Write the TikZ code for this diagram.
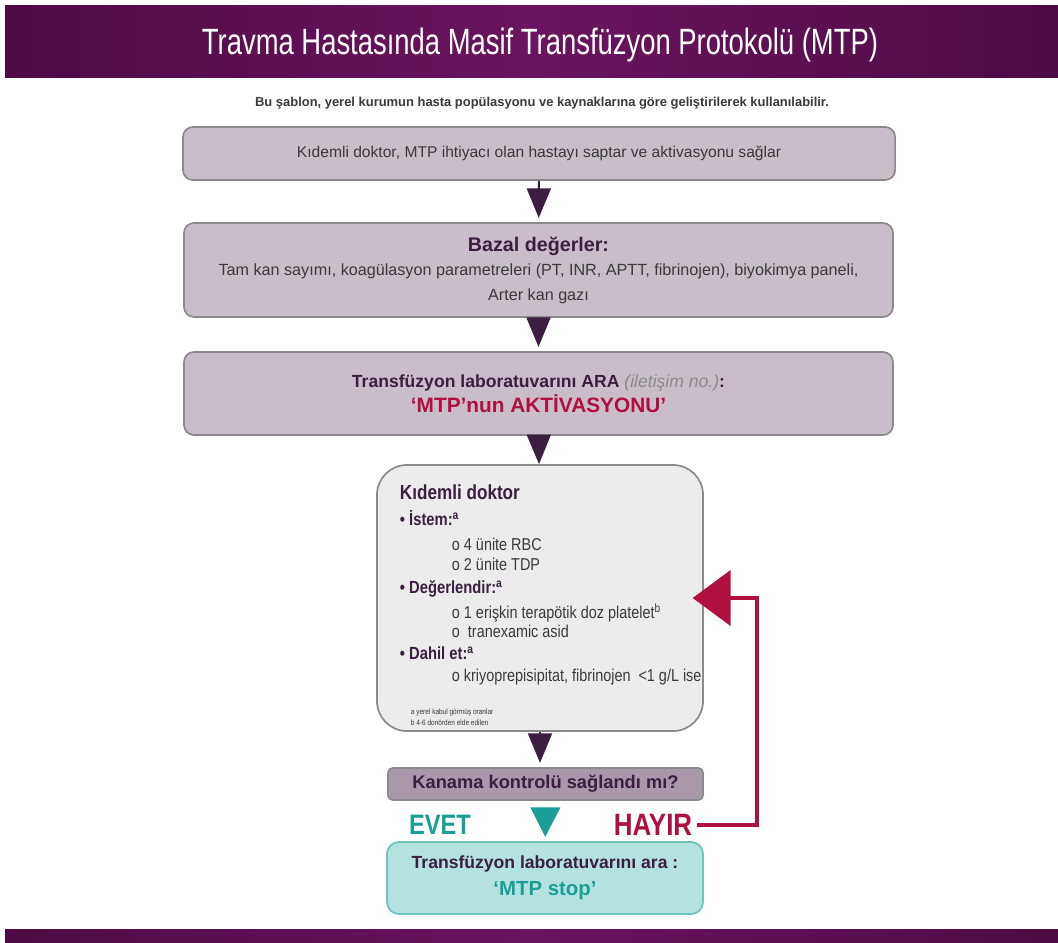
\documentclass[tikz,border=0pt]{standalone}
\usepackage{fontspec}
\setmainfont{Liberation Sans}
\newfontfamily\dar{Liberation Sans}[FakeStretch=0.75]
\newfontfamily\orta{Liberation Sans}[FakeStretch=0.84]
\usetikzlibrary{arrows.meta}
\definecolor{bant}{HTML}{6B1461}
\definecolor{bantkoyu}{HTML}{4E0A45}
\definecolor{koyu}{HTML}{3B1E40}
\definecolor{lila}{HTML}{C9BDCA}
\definecolor{lilakoyu}{HTML}{A898AA}
\definecolor{kenar}{HTML}{8A8A8A}
\definecolor{gri}{HTML}{ECECEC}
\definecolor{yazi}{HTML}{3A3A3A}
\definecolor{kirmizi}{HTML}{B0103F}
\definecolor{turkuaz}{HTML}{1A9E96}
\definecolor{turkuazacik}{HTML}{B3E2DF}
\definecolor{turkuazkenar}{HTML}{6CC3BD}

\begin{document}
\begin{tikzpicture}[x=0.025cm,y=-0.025cm]
\tikzset{kutu/.style={draw=kenar, fill=lila, line width=1.2pt, rounded corners=0.25cm, text=yazi, align=center},
         akis/.style={draw=koyu, line width=1.5pt, -{Triangle[width=17pt,length=21pt]}, shorten >=3pt},
         geri/.style={draw=kirmizi, line width=3.5pt, -{Triangle[width=39pt,length=27pt]}, shorten >=-8pt},
         madde/.style={anchor=mid west, text=koyu, font=\orta\bfseries\fontsize{12.5}{14}\selectfont},
         altmadde/.style={anchor=mid west, text=yazi, font=\orta\fontsize{12.2}{14}\selectfont},
         dipnot/.style={anchor=mid west, text=yazi, font=\orta\fontsize{5.5}{6}\selectfont}}
\useasboundingbox (0,0) rectangle (1058,942);
\fill[white] (0,0) rectangle (1058,942);
% bantlar
\shade[left color=bantkoyu, right color=bantkoyu, middle color=bant] (5,5) rectangle (1058,77);
\shade[left color=bantkoyu, right color=bantkoyu, middle color=bant] (5,929) rectangle (1058,942);
\node[text=white, font=\dar\fontsize{26}{30}\selectfont] (baslik) at (540,45) {Travma Hastasında Masif Transfüzyon Protokolü (MTP)};
\node[text=yazi, font=\bfseries\fontsize{9.2}{10}\selectfont] (not) at (542,103) {Bu şablon, yerel kurumun hasta popülasyonu ve kaynaklarına göre geliştirilerek kullanılabilir.};
% kutular
\node[kutu, minimum width=17.8cm, minimum height=1.325cm, font=\fontsize{11.1}{14}\selectfont] (B1) at (539,153.5) {Kıdemli doktor, MTP ihtiyacı olan hastayı saptar ve aktivasyonu sağlar};
\node[kutu, minimum width=17.72cm, minimum height=2.35cm, font=\fontsize{11.5}{17.5}\selectfont] (B2) at (538.5,270) {\rule{0pt}{4pt}\\[-11pt]{\color{koyu}\bfseries\fontsize{14}{17.5}\selectfont Bazal değerler:}\\Tam kan sayımı, koagülasyon parametreleri (PT, INR, APTT, fibrinojen), biyokimya paneli,\\Arter kan gazı};
\node[kutu, minimum width=17.72cm, minimum height=2.075cm, font=\fontsize{12.5}{18}\selectfont] (B3) at (538.5,393.5) {{\color{koyu}\bfseries Transfüzyon laboratuvarını ARA} {\color{kenar}\itshape (iletişim no.)}{\color{koyu}\bfseries :}\\{\color{kirmizi}\bfseries\fontsize{14.8}{18}\selectfont ‘MTP’nun AKTİVASYONU’}};
\node[kutu, fill=gri, rounded corners=0.75cm, minimum width=8.15cm, minimum height=6.65cm] (B4) at (540,598) {};
\node[kutu, fill=lilakoyu, rounded corners=0.12cm, minimum width=7.875cm, minimum height=0.8cm, text=koyu, font=\bfseries\fontsize{13}{14}\selectfont] (B5) at (545.5,784) {Kanama kontrolü sağlandı mı?};
\node[kutu, draw=turkuazkenar, fill=turkuazacik, rounded corners=0.3cm, minimum width=7.9cm, minimum height=1.8cm, font=\bfseries\fontsize{12.5}{19}\selectfont] (B6) at (545,878) {{\color{koyu}Transfüzyon laboratuvarını ara :}\\{\color{turkuaz}\fontsize{14.5}{19}\selectfont ‘MTP stop’}};
% kutu 4 icerigi
\node[anchor=mid west, text=koyu, font=\orta\bfseries\fontsize{14.5}{16}\selectfont] (K0) at (395,496) {Kıdemli doktor};
\node[madde] (K1) at (395,522) {• İstem:\textsuperscript{a}};
\node[altmadde] (K2) at (447,547) {o 4 ünite RBC};
\node[altmadde] (K3) at (447,567) {o 2 ünite TDP};
\node[madde] (K4) at (395,590) {• Değerlendir:\textsuperscript{a}};
\node[altmadde] (K5) at (447,615) {o 1 erişkin terapötik doz platelet\textsuperscript{b}};
\node[altmadde] (K6) at (447,634) {o\ \ tranexamic asid};
\node[madde] (K7) at (395,656) {• Dahil et:\textsuperscript{a}};
\node[altmadde] (K8) at (447,678) {o kriyoprepisipitat, fibrinojen\ \ <1 g/L ise};
\node[dipnot] (D1) at (406,711) {a yerel kabul görmüş oranlar};
\node[dipnot] (D2) at (406,722) {b 4-6 donörden elde edilen};
% evet / hayir
\node[text=turkuaz, font=\orta\bfseries\fontsize{20}{22}\selectfont] (EVET) at (440,825) {EVET};
\node[text=kirmizi, font=\orta\bfseries\fontsize{22}{24}\selectfont] (HAYIR) at (653,825) {HAYIR};
\coordinate (dön) at (757,598);
% oklar
\draw[akis] (B1) -- (B2);
\draw[akis] (B2) -- (B3);
\draw[akis, shorten >=0pt] (B3) -- (B4);
\draw[akis] (B4) -- (B4 |- B5.north);
\draw[akis, draw=turkuaz, -{Triangle[width=21pt,length=21pt]}, shorten <=6pt] (B5) -- (B6);
\draw[geri] (HAYIR.east) -| (dön) -- (B4.east);
\end{tikzpicture}
\end{document}
